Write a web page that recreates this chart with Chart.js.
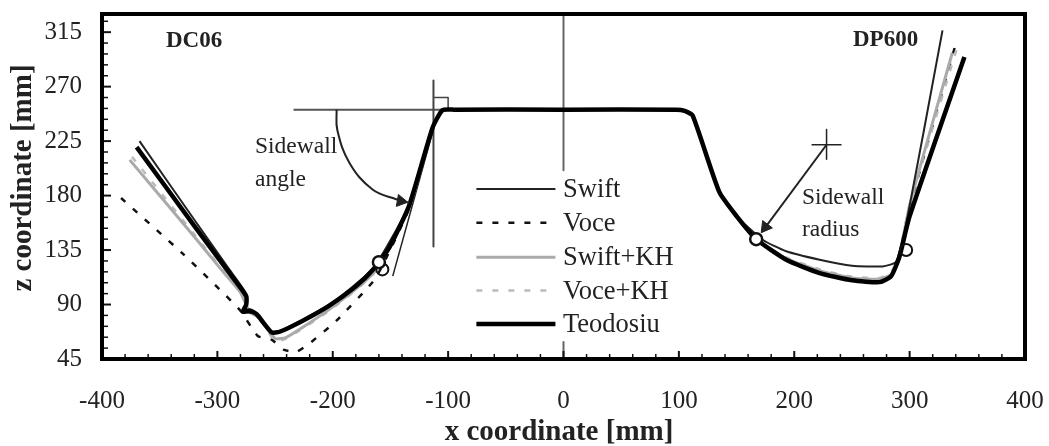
<!DOCTYPE html>
<html>
<head>
<meta charset="utf-8">
<script src="https://cdn.jsdelivr.net/npm/chart.js@4"></script>
<style>
  html, body { margin: 0; background: #fff; }
  #wrap { position: relative; width: 1049px; height: 446px; filter: blur(0.45px); }
</style>
</head>
<body>
<div id="wrap"><canvas id="chart"></canvas></div>
<script>
const xTickValues = [-400, -300, -200, -100, 0, 100, 200, 300, 400];
const yTickValues = [45, 90, 135, 180, 225, 270, 315];
const legendLabels = ['Swift', 'Voce', 'Swift+KH', 'Voce+KH', 'Teodosiu'];

// [x, z] pairs
const flatTop = [[-105, 250.5], [-95, 251], [0, 251], [98, 251], [105, 250]];
const teodosiu = [[-370, 220], [-320, 155], [-290, 116.5], [-275, 97], [-275, 90], [-278, 84], [-272, 85], [-266, 82], [-253, 67], [-246, 67.5],
  [-226, 76.5], [-203, 89], [-180, 105], [-165, 119], [-151, 137], [-133.5, 172.5], [-113.5, 236], ...flatTop,
  [112, 246], [135, 183], [150, 163], [167, 144], [193, 127], [222, 116], [250, 110], [274, 108.5], [284, 113.5], [291, 129], [300, 163], [347.5, 294.5]];
const swift = [[-367.5, 225], [-320, 160], [-290, 119.5], [-275, 99], [-275, 90], [-278, 84], [-266, 82], [-253, 67], [-246, 68], [-203, 90], [-165, 120],
  [-133.5, 173], [-113.5, 236], ...flatTop, [112, 246], [135, 183], [150, 163], [172.5, 143.5], [193, 134], [222, 127], [250, 122], [276.5, 121.5],
  [288, 125], [295.5, 149], [328.5, 316.5]];
const voce = [[-383.5, 178], [-330, 132], [-281, 86], [-265, 64], [-253, 61], [-242, 52.5], [-231.5, 51], [-220, 58], [-197, 76.5], [-165, 109],
  [-157, 122], [-133.5, 170], [-113.5, 236], ...flatTop, [112, 246], [135, 183], [150, 163], [167, 144], [193, 128], [222, 117], [250, 111],
  [274, 110], [284, 115], [291, 130], [300, 170], [339, 302]];
const swiftKH = [[-376, 209.5], [-320, 146], [-295, 117], [-280, 100], [-272, 84], [-262, 78], [-250, 62], [-240, 63], [-203, 86], [-165, 116],
  [-133.5, 171], [-113.5, 236], ...flatTop, [112, 246], [135, 183], [150, 163], [167, 144], [193, 128], [222, 118], [250, 112],
  [274, 111], [284, 115], [291, 130], [300, 172], [337, 298]];
const voceKH = [[-374, 212], [-320, 148], [-295, 118], [-280, 100], [-272, 84], [-262, 76], [-250, 60], [-240, 62], [-203, 85], [-165, 115],
  [-133.5, 171], [-113.5, 236], ...flatTop, [112, 246], [135, 183], [150, 163], [167, 144], [193, 129], [222, 119], [250, 113],
  [274, 112], [284, 117], [291, 132], [300, 172], [342, 305]];

const guideHorizontal = [[-234, 251], [-103, 251]];
const guideVertical = [[-112.7, 275], [-112.7, 138]];
const guideCentreUp = [[0, 330], [0, 201]];
const guideCentreDown = [[0, 59], [0, 45]];
const guideSquare = [[-112.7, 261], [-100, 261], [-100, 251]];
const guideTangent = [[-148, 113.5], [-113, 234]];
const angleArc = [[-196.7, 251], [-196, 234], [-185.5, 207], [-165.5, 185], [-145, 177], [-133.5, 174]];
const angleHead = [[-141, 175.5]];
const radiusArrow = [[228, 222], [172, 150]];
const radiusHead = [[175, 154]];
const crossH = [[215, 222], [241, 222]];
const crossV = [[228, 234.5], [228, 210]];
const pointCircles = [[-160, 125], [167, 144]];
const smallCircles = [[-157, 119], [297, 135]];

const legendX = [-75.5, -7];
const legendZ = [185.5, 157.5, 129, 101.5, 74];

const lineSet = (pts, color, width, dash) => ({
  data: pts.map(p => ({ x: p[0], y: p[1] })),
  showLine: true, borderColor: color, borderWidth: width, borderDash: dash || [],
  pointRadius: 0, tension: 0.18, fill: false, borderCapStyle: 'butt', borderJoinStyle: 'round'
});
const straight = (pts, color, width, dash) => ({ ...lineSet(pts, color, width, dash), tension: 0 });
const headSet = (pts, rotation, r) => ({
  data: pts.map(p => ({ x: p[0], y: p[1] })), showLine: false, pointStyle: 'triangle',
  pointRadius: r, pointRotation: rotation, pointBackgroundColor: '#222', pointBorderColor: '#222', pointBorderWidth: 1
});
const circleSet = (pts, r, width, fill) => ({
  data: pts.map(p => ({ x: p[0], y: p[1] })), showLine: false, pointStyle: 'circle',
  pointRadius: r, pointBackgroundColor: fill, pointBorderColor: '#111', pointBorderWidth: width
});

const seriesStyle = [['#222', 2, []], ['#111', 2.5, [6, 10]], ['#aaa', 3, []], ['#bbb', 2.5, [6, 10]], ['#000', 4.5, []]];

// inward ticks, frame and the texts on top of the plot
const plotExtras = {
  id: 'plotExtras',
  afterDatasetsDraw(chart) {
    const { ctx, chartArea: a, scales: { x, y } } = chart;
    ctx.save();
    ctx.strokeStyle = '#111';
    for (let v = -400; v <= 400; v += 20) {
      const big = v % 100 === 0;
      ctx.lineWidth = big ? 2 : 1.5;
      const px = x.getPixelForValue(v);
      ctx.beginPath(); ctx.moveTo(px, a.bottom); ctx.lineTo(px, a.bottom - (big ? 8 : 5)); ctx.stroke();
    }
    for (let v = 45; v <= 330; v += 9) {
      const big = (v - 45) % 45 === 0;
      ctx.lineWidth = big ? 2 : 1.5;
      const py = y.getPixelForValue(v);
      ctx.beginPath(); ctx.moveTo(a.left, py); ctx.lineTo(a.left + (big ? 9 : 6), py); ctx.stroke();
    }
    ctx.strokeStyle = '#000';
    ctx.lineWidth = 4;
    ctx.strokeRect(a.left, a.top, a.right - a.left, a.bottom - a.top);

    ctx.fillStyle = '#222';
    ctx.textBaseline = 'middle';
    ctx.textAlign = 'left';
    ctx.font = '26.5px "Liberation Serif"';
    legendLabels.forEach((t, i) => ctx.fillText(t, 563, y.getPixelForValue(legendZ[i]) + 1));
    ctx.font = '23.5px "Liberation Serif"';
    ctx.fillText('Sidewall', 255, 147);
    ctx.fillText('angle', 255, 180);
    ctx.fillText('Sidewall', 802, 198);
    ctx.fillText('radius', 802, 230);
    ctx.font = 'bold 23px "Liberation Serif"';
    ctx.fillText('DC06', 166, 41);
    ctx.fillText('DP600', 853, 40);

    ctx.textAlign = 'center';
    ctx.font = 'bold 29px "Liberation Serif"';
    ctx.fillText('x coordinate [mm]', 559, 433);
    ctx.translate(24, 178);
    ctx.rotate(-Math.PI / 2);
    ctx.fillText('z coordinate [mm]', 0, 0);
    ctx.restore();
  }
};

// chart.js paints the first dataset last, so the top layer comes first here
const datasets = [
  circleSet(pointCircles, 6, 2.5, '#fff'),
  straight(crossV, '#222', 1.5),
  straight(crossH, '#222', 1.5),
  headSet(radiusHead, 217, 7),
  straight(radiusArrow, '#222', 2),
  headSet(angleHead, 100, 7),
  { ...lineSet(angleArc, '#222', 2), tension: 0.4 },
  circleSet(smallCircles, 6, 2, 'rgba(255,255,255,0)'),
  lineSet(teodosiu, ...seriesStyle[4]),
  lineSet(swift, ...seriesStyle[0]),
  lineSet(swiftKH, ...seriesStyle[2]),
  lineSet(voceKH, ...seriesStyle[3]),
  lineSet(voce, ...seriesStyle[1]),
  straight(guideTangent, '#222', 1.5),
  straight(guideSquare, '#444', 1.5),
  straight(guideCentreDown, '#666', 2),
  straight(guideCentreUp, '#666', 2),
  straight(guideVertical, '#444', 2),
  straight(guideHorizontal, '#555', 2),
  ...legendZ.map((z, i) => straight(legendX.map(v => [v, z]), ...seriesStyle[i]))
];

new Chart(document.getElementById('chart'), {
  type: 'scatter',
  data: { datasets },
  plugins: [plotExtras],
  options: {
    responsive: true,
    maintainAspectRatio: false,
    animation: false,
    layout: { padding: { top: 14, right: 24 } },
    plugins: { legend: { display: false }, tooltip: { enabled: false } },
    scales: {
      x: {
        type: 'linear', min: -400, max: 400,
        afterFit: s => { s.height = 87; s.paddingLeft = 0; s.paddingRight = 0; },
        afterBuildTicks: s => { s.ticks = xTickValues.map(v => ({ value: v })); },
        grid: { display: false },
        border: { display: false },
        ticks: { padding: 19, maxRotation: 0, autoSkip: false, color: '#222', font: { family: '"Liberation Serif"', size: 25 } }
      },
      y: {
        type: 'linear', min: 45, max: 330,
        afterFit: s => { s.width = 102; s.paddingTop = 0; s.paddingBottom = 0; },
        afterBuildTicks: s => { s.ticks = yTickValues.map(v => ({ value: v })); },
        grid: { display: false },
        border: { display: false },
        ticks: { padding: 12, autoSkip: false, color: '#222', font: { family: '"Liberation Serif"', size: 25 } }
      }
    }
  }
});
</script>
</body>
</html>
